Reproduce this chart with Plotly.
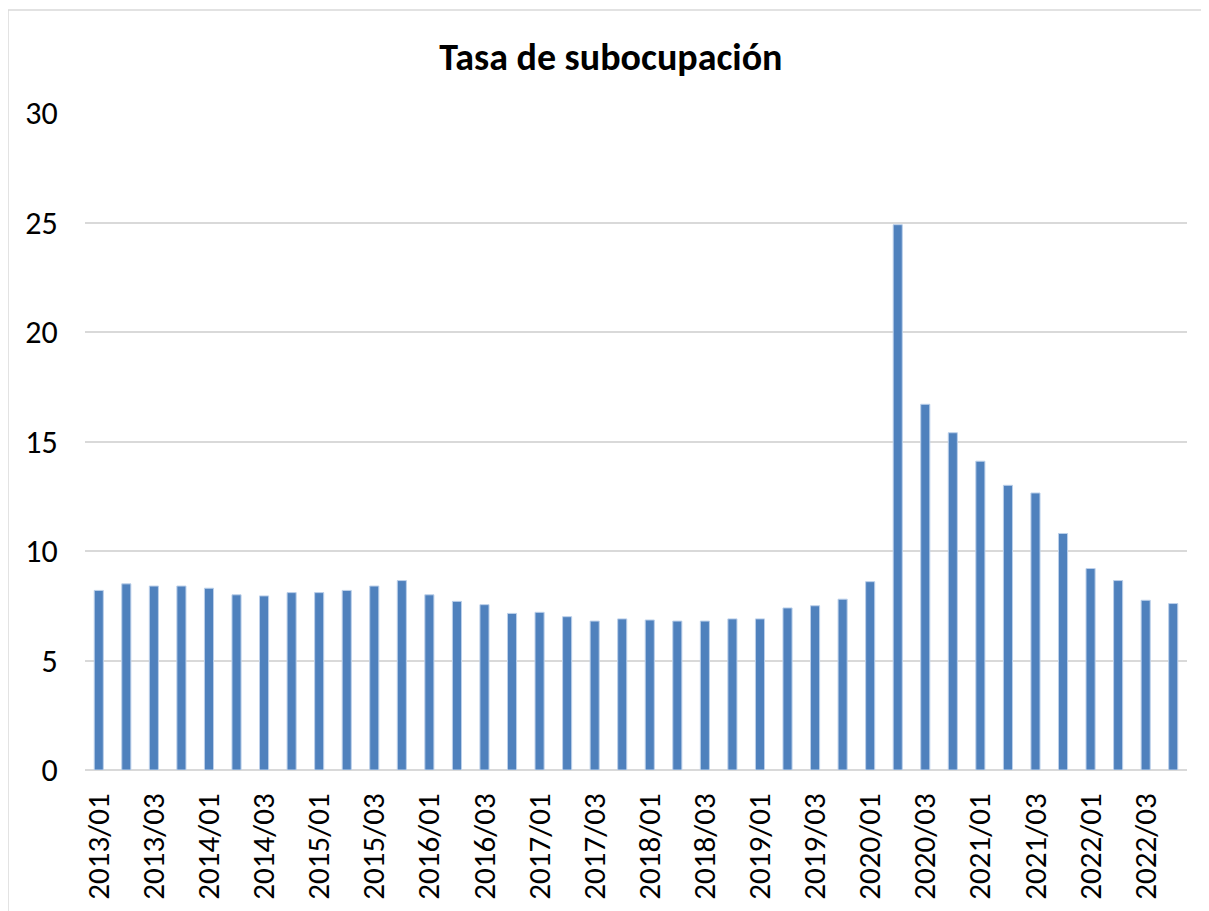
import plotly.graph_objects as go

# quarterly periods 2013/01 .. 2022/04
periods = [f"{y}/{q:02d}" for y in range(2013, 2023) for q in range(1, 5)]

tasa = [
    8.2, 8.5, 8.4, 8.4, 8.3, 8.0, 7.95, 8.1, 8.1, 8.2,
    8.4, 8.65, 8.0, 7.7, 7.55, 7.15, 7.2, 7.0, 6.8, 6.9,
    6.85, 6.8, 6.8, 6.9, 6.9, 7.4, 7.5, 7.8, 8.6, 24.9,
    16.7, 15.4, 14.1, 13.0, 12.65, 10.8, 9.2, 8.65, 7.75, 7.6,
]

title = "Tasa de subocupación"
font_family = "Carlito, Lato, 'Open Sans', sans-serif"

fig = go.Figure(go.Bar(
    x=periods, y=tasa,
    marker=dict(color="#4F81BD", line=dict(color="#BCD0EA", width=1)),
))

# page body has an 8px margin, so the figure is a bit smaller than the window
fig.update_layout(
    width=1201, height=903,
    margin=dict(l=77, r=22, t=105, b=141),
    paper_bgcolor="white", plot_bgcolor="white",
    bargap=0.67,
    showlegend=False,
    font=dict(family=font_family, size=32, color="black"),
    title=dict(text=f"<b>{title}</b>", x=0.502, xanchor="center",
               y=0.9457, yanchor="middle", font=dict(size=38, color="black")),
)

fig.update_xaxes(
    type="category", tickmode="linear", dtick=2, tick0=0,
    tickangle=-90, showgrid=False, showline=False, automargin=False,
    ticks="outside", ticklen=10, tickcolor="rgba(0,0,0,0)",
    tickfont=dict(size=31),
)
fig.update_yaxes(
    range=[0, 30], dtick=5, showgrid=True, gridcolor="#D9D9D9", gridwidth=1.5,
    zeroline=True, zerolinecolor="#D9D9D9", zerolinewidth=1.5, showline=False,
    automargin=False,
    ticks="outside", ticklen=20, tickcolor="rgba(0,0,0,0)",
    tickfont=dict(size=32),
)

# chart area border
fig.add_shape(type="rect", xref="paper", yref="paper",
              x0=-0.0699, x1=1.03, y0=-0.3, y1=1.1568,
              line=dict(color="#D9D9D9", width=1.5))

fig.write_html("out.html")
